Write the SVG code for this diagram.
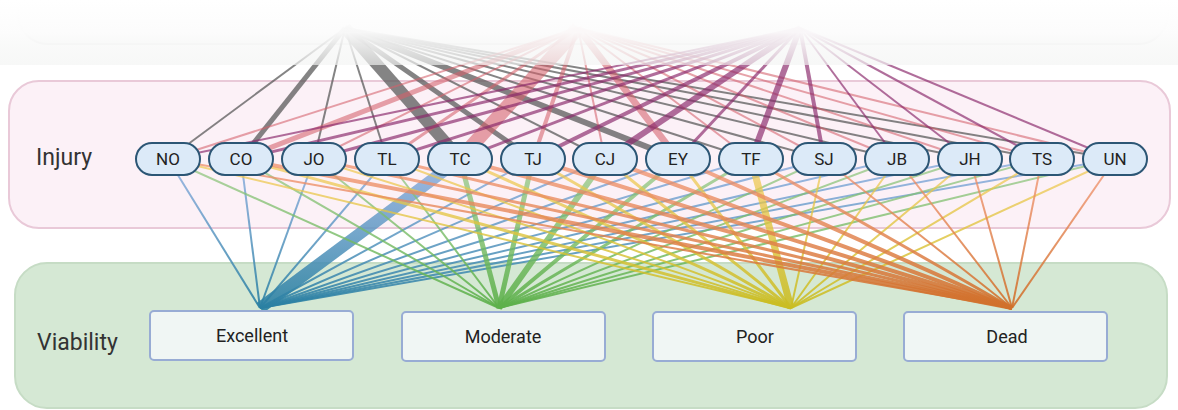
<svg xmlns="http://www.w3.org/2000/svg" width="1178" height="410" viewBox="0 0 1178 410">
<defs>
<style>
.lane-label{font-family:Roboto,"Liberation Sans",sans-serif;font-size:23px;fill:#333}
.inj rect{fill:#dceaf8;stroke:#2c5675;stroke-width:2}
.inj text{font-family:Roboto,"Liberation Sans",sans-serif;font-size:17px;fill:#222;text-anchor:middle}
.via rect{fill:#f0f6f4;stroke:#98acd4;stroke-width:2}
.via text{font-family:Roboto,"Liberation Sans",sans-serif;font-size:18px;fill:#222;text-anchor:middle}
.g{stroke:#555;stroke-opacity:.72;fill:none}
.r{stroke:#d4606b;stroke-opacity:.58;fill:none}
.p{stroke:#8a2a6c;stroke-opacity:.68;fill:none}
.ex{stroke:url(#gEx);fill:none}
.mo{stroke:url(#gMo);fill:none}
.po{stroke:url(#gPo);fill:none}
.de{stroke:url(#gDe);fill:none}
</style>
<linearGradient id="gEx" gradientUnits="userSpaceOnUse" x1="0" y1="170" x2="0" y2="308">
<stop offset="0" stop-color="#7aa3d8" stop-opacity=".75"/><stop offset="1" stop-color="#2a80a2" stop-opacity=".9"/></linearGradient>
<linearGradient id="gMo" gradientUnits="userSpaceOnUse" x1="0" y1="170" x2="0" y2="308">
<stop offset="0" stop-color="#8cc47a" stop-opacity=".7"/><stop offset="1" stop-color="#5cb04a" stop-opacity=".9"/></linearGradient>
<linearGradient id="gPo" gradientUnits="userSpaceOnUse" x1="0" y1="170" x2="0" y2="308">
<stop offset="0" stop-color="#f0c850" stop-opacity=".7"/><stop offset="1" stop-color="#c9bd22" stop-opacity=".9"/></linearGradient>
<linearGradient id="gDe" gradientUnits="userSpaceOnUse" x1="0" y1="170" x2="0" y2="308">
<stop offset="0" stop-color="#f0906a" stop-opacity=".75"/><stop offset="1" stop-color="#d0702a" stop-opacity=".9"/></linearGradient>
<linearGradient id="fade" x1="0" y1="0" x2="0" y2="1">
<stop offset="0" stop-color="#ffffff" stop-opacity="1"/><stop offset=".5" stop-color="#fcfcfc" stop-opacity=".97"/><stop offset="1" stop-color="#f3f4f3" stop-opacity=".66"/></linearGradient>
</defs>

<g id="lanes">
<rect id="lane-top" x="18" y="-100" width="1150" height="144" rx="30" fill="#f7f8f7" stroke="#e2e4e2" stroke-width="2"/>
<rect id="lane-injury" x="9" y="81" width="1161" height="147" rx="30" fill="#fcf1f7" stroke="#e9c9d8" stroke-width="2"/>
<rect id="lane-viability" x="15" y="263" width="1152" height="145" rx="32" fill="#d5e8d4" stroke="#c6dcc5" stroke-width="2"/>
</g>

<g id="connectors">
<g id="top-links">
<line class="g" x1="345" y1="28" x2="168" y2="159" stroke-width="2"/>
<line class="g" x1="345" y1="28" x2="241" y2="159" stroke-width="5"/>
<line class="g" x1="345" y1="28" x2="314" y2="159" stroke-width="2"/>
<line class="g" x1="345" y1="28" x2="387" y2="159" stroke-width="2"/>
<line class="g" x1="345" y1="28" x2="460" y2="159" stroke-width="12"/>
<line class="g" x1="345" y1="28" x2="533" y2="159" stroke-width="5"/>
<line class="g" x1="345" y1="28" x2="605" y2="159" stroke-width="2"/>
<line class="g" x1="345" y1="28" x2="678" y2="159" stroke-width="6"/>
<line class="g" x1="345" y1="28" x2="751" y2="159" stroke-width="2"/>
<line class="g" x1="345" y1="28" x2="824" y2="159" stroke-width="2"/>
<line class="g" x1="345" y1="28" x2="897" y2="159" stroke-width="2"/>
<line class="g" x1="345" y1="28" x2="970" y2="159" stroke-width="2"/>
<line class="g" x1="345" y1="28" x2="1042" y2="159" stroke-width="2"/>
<line class="g" x1="345" y1="28" x2="1115" y2="159" stroke-width="2"/>
<line class="r" x1="578" y1="28" x2="168" y2="159" stroke-width="2"/>
<line class="r" x1="578" y1="28" x2="241" y2="159" stroke-width="5"/>
<line class="r" x1="578" y1="28" x2="314" y2="159" stroke-width="2"/>
<line class="r" x1="578" y1="28" x2="387" y2="159" stroke-width="3"/>
<line class="r" x1="578" y1="28" x2="460" y2="159" stroke-width="14"/>
<line class="r" x1="578" y1="28" x2="533" y2="159" stroke-width="4"/>
<line class="r" x1="578" y1="28" x2="605" y2="159" stroke-width="2"/>
<line class="r" x1="578" y1="28" x2="678" y2="159" stroke-width="7"/>
<line class="r" x1="578" y1="28" x2="751" y2="159" stroke-width="2"/>
<line class="r" x1="578" y1="28" x2="824" y2="159" stroke-width="2"/>
<line class="r" x1="578" y1="28" x2="897" y2="159" stroke-width="2"/>
<line class="r" x1="578" y1="28" x2="970" y2="159" stroke-width="2"/>
<line class="r" x1="578" y1="28" x2="1042" y2="159" stroke-width="2"/>
<line class="r" x1="578" y1="28" x2="1115" y2="159" stroke-width="2"/>
<line class="p" x1="800" y1="28" x2="168" y2="159" stroke-width="2"/>
<line class="p" x1="800" y1="28" x2="241" y2="159" stroke-width="3"/>
<line class="p" x1="800" y1="28" x2="314" y2="159" stroke-width="3"/>
<line class="p" x1="800" y1="28" x2="387" y2="159" stroke-width="3"/>
<line class="p" x1="800" y1="28" x2="460" y2="159" stroke-width="3"/>
<line class="p" x1="800" y1="28" x2="533" y2="159" stroke-width="4"/>
<line class="p" x1="800" y1="28" x2="605" y2="159" stroke-width="6"/>
<line class="p" x1="800" y1="28" x2="678" y2="159" stroke-width="3"/>
<line class="p" x1="800" y1="28" x2="751" y2="159" stroke-width="6"/>
<line class="p" x1="800" y1="28" x2="824" y2="159" stroke-width="4"/>
<line class="p" x1="800" y1="28" x2="897" y2="159" stroke-width="2"/>
<line class="p" x1="800" y1="28" x2="970" y2="159" stroke-width="2"/>
<line class="p" x1="800" y1="28" x2="1042" y2="159" stroke-width="2"/>
<line class="p" x1="800" y1="28" x2="1115" y2="159" stroke-width="2"/>
</g>
<g id="bottom-links">
<line class="ex" x1="168" y1="159" x2="260" y2="308" stroke-width="2"/>
<line class="ex" x1="241" y1="159" x2="260" y2="308" stroke-width="2"/>
<line class="ex" x1="314" y1="159" x2="260" y2="308" stroke-width="2"/>
<line class="ex" x1="387" y1="159" x2="260" y2="308" stroke-width="2"/>
<line class="ex" x1="460" y1="159" x2="260" y2="308" stroke-width="12"/>
<line class="ex" x1="533" y1="159" x2="260" y2="308" stroke-width="2"/>
<line class="ex" x1="605" y1="159" x2="260" y2="308" stroke-width="2"/>
<line class="ex" x1="678" y1="159" x2="260" y2="308" stroke-width="2"/>
<line class="ex" x1="751" y1="159" x2="260" y2="308" stroke-width="2"/>
<line class="ex" x1="824" y1="159" x2="260" y2="308" stroke-width="2"/>
<line class="ex" x1="897" y1="159" x2="260" y2="308" stroke-width="2"/>
<line class="ex" x1="970" y1="159" x2="260" y2="308" stroke-width="2"/>
<line class="ex" x1="1042" y1="159" x2="260" y2="308" stroke-width="2"/>
<line class="ex" x1="1115" y1="159" x2="260" y2="308" stroke-width="2"/>
<line class="mo" x1="168" y1="159" x2="499" y2="308" stroke-width="2"/>
<line class="mo" x1="241" y1="159" x2="499" y2="308" stroke-width="2"/>
<line class="mo" x1="314" y1="159" x2="499" y2="308" stroke-width="2"/>
<line class="mo" x1="387" y1="159" x2="499" y2="308" stroke-width="2"/>
<line class="mo" x1="460" y1="159" x2="499" y2="308" stroke-width="5"/>
<line class="mo" x1="533" y1="159" x2="499" y2="308" stroke-width="5"/>
<line class="mo" x1="605" y1="159" x2="499" y2="308" stroke-width="6"/>
<line class="mo" x1="678" y1="159" x2="499" y2="308" stroke-width="4"/>
<line class="mo" x1="751" y1="159" x2="499" y2="308" stroke-width="3"/>
<line class="mo" x1="824" y1="159" x2="499" y2="308" stroke-width="2"/>
<line class="mo" x1="897" y1="159" x2="499" y2="308" stroke-width="2"/>
<line class="mo" x1="970" y1="159" x2="499" y2="308" stroke-width="2"/>
<line class="mo" x1="1042" y1="159" x2="499" y2="308" stroke-width="2"/>
<line class="mo" x1="1115" y1="159" x2="499" y2="308" stroke-width="2"/>
<line class="po" x1="168" y1="159" x2="791" y2="308" stroke-width="2"/>
<line class="po" x1="241" y1="159" x2="791" y2="308" stroke-width="3"/>
<line class="po" x1="314" y1="159" x2="791" y2="308" stroke-width="2"/>
<line class="po" x1="387" y1="159" x2="791" y2="308" stroke-width="2"/>
<line class="po" x1="460" y1="159" x2="791" y2="308" stroke-width="3"/>
<line class="po" x1="533" y1="159" x2="791" y2="308" stroke-width="3"/>
<line class="po" x1="605" y1="159" x2="791" y2="308" stroke-width="3"/>
<line class="po" x1="678" y1="159" x2="791" y2="308" stroke-width="3"/>
<line class="po" x1="751" y1="159" x2="791" y2="308" stroke-width="7"/>
<line class="po" x1="824" y1="159" x2="791" y2="308" stroke-width="2"/>
<line class="po" x1="897" y1="159" x2="791" y2="308" stroke-width="2"/>
<line class="po" x1="970" y1="159" x2="791" y2="308" stroke-width="2"/>
<line class="po" x1="1042" y1="159" x2="791" y2="308" stroke-width="2"/>
<line class="po" x1="1115" y1="159" x2="791" y2="308" stroke-width="2"/>
<line class="de" x1="168" y1="159" x2="1012" y2="308" stroke-width="2"/>
<line class="de" x1="241" y1="159" x2="1012" y2="308" stroke-width="4"/>
<line class="de" x1="314" y1="159" x2="1012" y2="308" stroke-width="3"/>
<line class="de" x1="387" y1="159" x2="1012" y2="308" stroke-width="3"/>
<line class="de" x1="460" y1="159" x2="1012" y2="308" stroke-width="4"/>
<line class="de" x1="533" y1="159" x2="1012" y2="308" stroke-width="4"/>
<line class="de" x1="605" y1="159" x2="1012" y2="308" stroke-width="4"/>
<line class="de" x1="678" y1="159" x2="1012" y2="308" stroke-width="4"/>
<line class="de" x1="751" y1="159" x2="1012" y2="308" stroke-width="3"/>
<line class="de" x1="824" y1="159" x2="1012" y2="308" stroke-width="2"/>
<line class="de" x1="897" y1="159" x2="1012" y2="308" stroke-width="2"/>
<line class="de" x1="970" y1="159" x2="1012" y2="308" stroke-width="2"/>
<line class="de" x1="1042" y1="159" x2="1012" y2="308" stroke-width="2"/>
<line class="de" x1="1115" y1="159" x2="1012" y2="308" stroke-width="2"/>
</g>
</g>

<rect id="top-fade" x="0" y="0" width="1178" height="65" fill="url(#fade)"/>

<text class="lane-label" x="36" y="165">Injury</text>
<text class="lane-label" x="37" y="350">Viability</text>

<g class="inj">
<g id="node-NO"><rect x="136" y="143" width="64" height="32" rx="16"/><text x="168" y="165">NO</text></g>
<g id="node-CO"><rect x="209" y="143" width="64" height="32" rx="16"/><text x="241" y="165">CO</text></g>
<g id="node-JO"><rect x="282" y="143" width="64" height="32" rx="16"/><text x="314" y="165">JO</text></g>
<g id="node-TL"><rect x="355" y="143" width="64" height="32" rx="16"/><text x="387" y="165">TL</text></g>
<g id="node-TC"><rect x="428" y="143" width="64" height="32" rx="16"/><text x="460" y="165">TC</text></g>
<g id="node-TJ"><rect x="501" y="143" width="64" height="32" rx="16"/><text x="533" y="165">TJ</text></g>
<g id="node-CJ"><rect x="573" y="143" width="64" height="32" rx="16"/><text x="605" y="165">CJ</text></g>
<g id="node-EY"><rect x="646" y="143" width="64" height="32" rx="16"/><text x="678" y="165">EY</text></g>
<g id="node-TF"><rect x="719" y="143" width="64" height="32" rx="16"/><text x="751" y="165">TF</text></g>
<g id="node-SJ"><rect x="792" y="143" width="64" height="32" rx="16"/><text x="824" y="165">SJ</text></g>
<g id="node-JB"><rect x="865" y="143" width="64" height="32" rx="16"/><text x="897" y="165">JB</text></g>
<g id="node-JH"><rect x="938" y="143" width="64" height="32" rx="16"/><text x="970" y="165">JH</text></g>
<g id="node-TS"><rect x="1010" y="143" width="64" height="32" rx="16"/><text x="1042" y="165">TS</text></g>
<g id="node-UN"><rect x="1083" y="143" width="64" height="32" rx="16"/><text x="1115" y="165">UN</text></g>
</g>

<g class="via">
<g id="node-Excellent"><rect x="150" y="311" width="203" height="49" rx="4"/><text x="252" y="342">Excellent</text></g>
<g id="node-Moderate"><rect x="402" y="312" width="203" height="49" rx="4"/><text x="503" y="343">Moderate</text></g>
<g id="node-Poor"><rect x="653" y="312" width="203" height="49" rx="4"/><text x="755" y="343">Poor</text></g>
<g id="node-Dead"><rect x="904" y="312" width="203" height="49" rx="4"/><text x="1007" y="343">Dead</text></g>
</g>
</svg>
